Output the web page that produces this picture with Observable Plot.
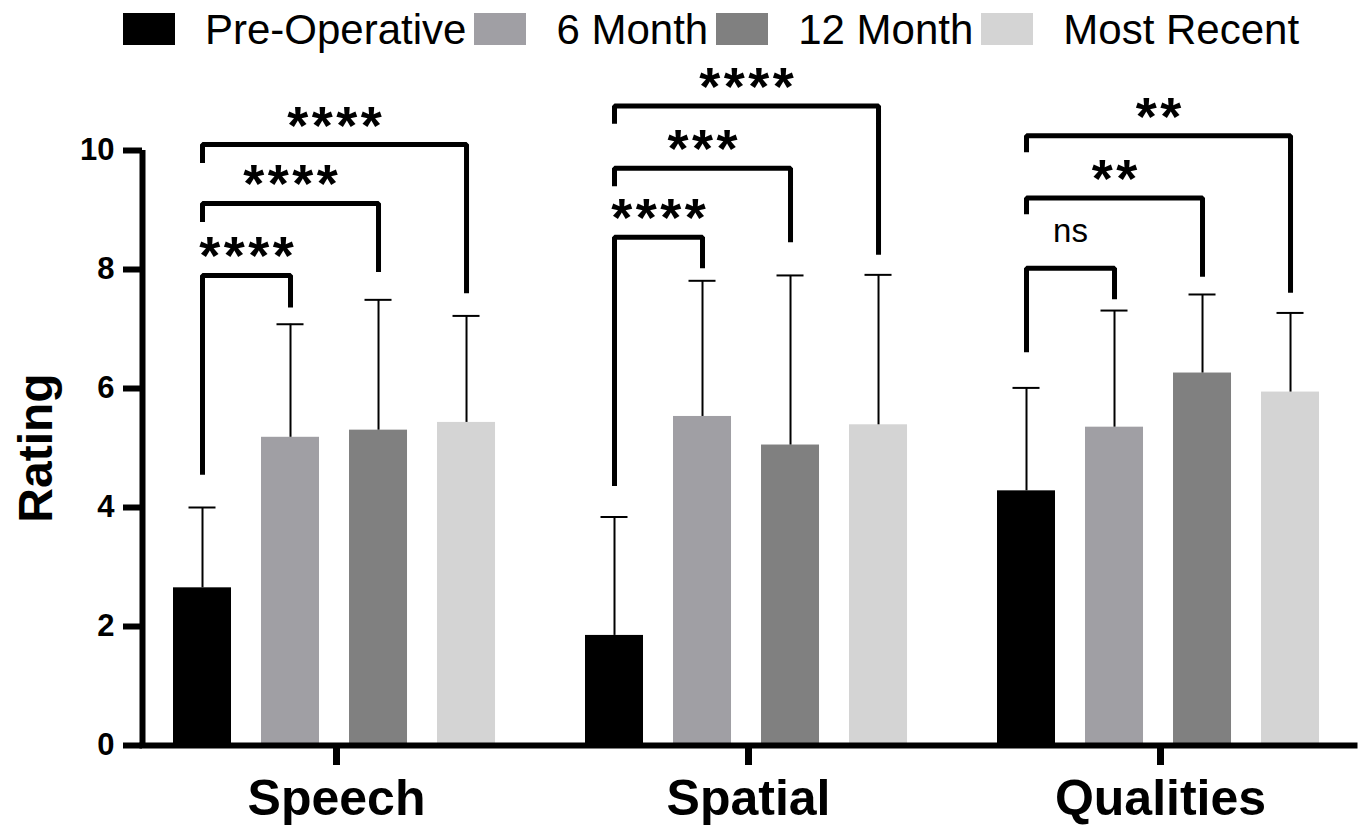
<!DOCTYPE html>
<html>
<head>
<meta charset="utf-8">
<script src="https://cdn.jsdelivr.net/npm/d3@7"></script>
<script src="https://cdn.jsdelivr.net/npm/@observablehq/plot@0.6"></script>
<style>
  html, body { margin: 0; padding: 0; background: #fff; }
  body { width: 1360px; height: 829px; overflow: hidden; font-family: "Liberation Sans", Arial, sans-serif; }
  #legend { display: flex; align-items: flex-start; height: 50px; box-sizing: border-box; padding: 13px 0 0 123px; }
  #legend .item { display: flex; align-items: center; margin-right: 8px; }
  #legend .swatch { width: 52px; height: 32px; margin-right: 30px; }
  #legend .label { font-size: 42px; line-height: 32px; color: #000; white-space: nowrap; position: relative; top: 1px; }
  #chart svg { display: block; }
</style>
</head>
<body>
<div id="legend"></div>
<div id="chart"></div>
<script>
// Outcome categories and assessment timepoints
const categories = ["Speech", "Spatial", "Qualities"];
const series = ["Pre-Operative", "6 Month", "12 Month", "Most Recent"];
const colors = ["#000000", "#a09fa4", "#808080", "#d4d4d4"];

// Mean rating at each timepoint
const speechMean = [2.65, 5.18, 5.30, 5.43];
const spatialMean = [1.85, 5.53, 5.05, 5.39];
const qualitiesMean = [4.28, 5.35, 6.26, 5.94];

// Standard deviation (upper whisker)
const speechSD = [1.35, 1.90, 2.19, 1.79];
const spatialSD = [1.99, 2.28, 2.85, 2.52];
const qualitiesSD = [1.73, 1.96, 1.32, 1.33];

const yTicks = [0, 2, 4, 6, 8, 10];

// Each later timepoint compared against Pre-Operative
const compareTarget = ["6 Month", "12 Month", "Most Recent"];
const speechSig = ["****", "****", "****"];
const spatialSig = ["****", "***", "****"];
const qualitiesSig = ["ns", "**", "**"];

// Bracket geometry in rating units: crossbar level, left leg end, right leg end
const speechBracketTop = [7.90, 9.11, 10.10];
const speechLeftEnd = [4.55, 8.80, 9.79];
const speechRightEnd = [7.36, 7.96, 7.60];
const spatialBracketTop = [8.54, 9.70, 10.75];
const spatialLeftEnd = [4.36, 9.40, 10.45];
const spatialRightEnd = [8.02, 8.46, 8.25];
const qualitiesBracketTop = [8.02, 9.20, 10.25];
const qualitiesLeftEnd = [6.61, 8.93, 9.97];
const qualitiesRightEnd = [7.50, 7.88, 7.61];

// ---- tables for Plot ----
const meanBy = {Speech: speechMean, Spatial: spatialMean, Qualities: qualitiesMean};
const sdBy = {Speech: speechSD, Spatial: spatialSD, Qualities: qualitiesSD};
const sigBy = {Speech: speechSig, Spatial: spatialSig, Qualities: qualitiesSig};
const topBy = {Speech: speechBracketTop, Spatial: spatialBracketTop, Qualities: qualitiesBracketTop};
const leftBy = {Speech: speechLeftEnd, Spatial: spatialLeftEnd, Qualities: qualitiesLeftEnd};
const rightBy = {Speech: speechRightEnd, Spatial: spatialRightEnd, Qualities: qualitiesRightEnd};

const bars = categories.flatMap(c => series.map((s, i) => ({
  category: c, series: s, i, mean: meanBy[c][i], sd: sdBy[c][i]
})));

const brackets = categories.flatMap(c => compareTarget.map((t, k) => ({
  category: c, id: `${c}-${t}`, from: 0, to: series.indexOf(t),
  label: sigBy[c][k], top: topBy[c][k], left: leftBy[c][k], right: rightBy[c][k]
})));

const bracketPath = brackets.flatMap(b => [
  {category: b.category, id: b.id, pos: b.from, y: b.left},
  {category: b.category, id: b.id, pos: b.from, y: b.top},
  {category: b.category, id: b.id, pos: b.to, y: b.top},
  {category: b.category, id: b.id, pos: b.to, y: b.right}
]);

// ---- legend ----
const legend = document.getElementById("legend");
series.forEach((s, i) => {
  const item = document.createElement("div");
  item.className = "item";
  const sw = document.createElement("div");
  sw.className = "swatch";
  sw.style.background = colors[i];
  const lab = document.createElement("span");
  lab.className = "label";
  lab.textContent = s;
  item.append(sw, lab);
  legend.append(item);
});

// ---- chart ----
const xDomain = [-0.1818, 4.227];   // timepoint slots within each category
const center = d => d + 0.5;
const starSpacing = 3.5;            // extra tracking between asterisks

const chart = Plot.plot({
  width: 1360,
  height: 779,
  marginTop: 100,
  marginBottom: 84,
  marginLeft: 141,
  marginRight: 6,
  style: {fontFamily: "'Liberation Sans', Arial, sans-serif", color: "#000", background: "#fff"},
  fx: {domain: categories, paddingInner: 0.0594, paddingOuter: 0},
  x: {domain: xDomain, axis: null},
  y: {domain: [0, 10]},
  color: {domain: series, range: colors},
  marks: [
    // bars
    Plot.rectY(bars, {
      fx: "category", x1: "i", x2: d => d.i + 1, y1: () => 0, y2: "mean",
      fill: "series", insetLeft: 15, insetRight: 15
    }),
    // upper error whiskers
    Plot.ruleX(bars, {
      fx: "category", x: d => center(d.i), y1: "mean", y2: d => d.mean + d.sd,
      stroke: "#000", strokeWidth: 2
    }),
    Plot.ruleY(bars, {
      fx: "category", x1: "i", x2: d => d.i + 1, y: d => d.mean + d.sd,
      insetLeft: 30.5, insetRight: 30.5, stroke: "#000", strokeWidth: 2
    }),
    // significance brackets
    Plot.line(bracketPath, {
      fx: "category", x: d => center(d.pos), y: "y", z: "id",
      stroke: "#000", strokeWidth: 5, strokeLinejoin: "miter", strokeLinecap: "butt"
    }),
    Plot.text(brackets.filter(b => b.label !== "ns"), {
      fx: "category", x: b => center((b.from + b.to) / 2), y: "top", text: "label",
      fontSize: 54, fontWeight: "bold", lineAnchor: "bottom", dx: starSpacing / 2, dy: -1
    }),
    Plot.text(brackets.filter(b => b.label === "ns"), {
      fx: "category", x: b => center((b.from + b.to) / 2), y: "top", text: "label",
      fontSize: 33, lineAnchor: "bottom", dy: -26
    }),
    // axes
    Plot.ruleX([categories[0]], {
      fx: d => d, x: () => xDomain[0], y1: () => yTicks[0], y2: () => yTicks[yTicks.length - 1],
      stroke: "#000", strokeWidth: 6
    }),
    Plot.frame({anchor: "bottom", facet: "super", stroke: "#000", strokeWidth: 6}),
    Plot.axisY({
      ticks: yTicks, tickFormat: d => d, tickSize: 19, tickPadding: 9,
      strokeWidth: 6, fontSize: 31, fontWeight: "bold", label: null
    }),
    Plot.axisFx({
      anchor: "bottom", tickSize: 20, tickPadding: 13.5, strokeWidth: 7,
      fontSize: 50, fontWeight: "bold", label: null
    }),
    Plot.text(["Rating"], {
      facet: "super", frameAnchor: "left", rotate: -90, dx: -91,
      textAnchor: "middle", lineAnchor: "bottom", fontSize: 48, fontWeight: "bold"
    })
  ]
});

// spread the asterisks of the significance labels
chart.querySelectorAll("text").forEach(t => {
  if (/^\*+$/.test(t.textContent)) t.style.letterSpacing = `${starSpacing}px`;
});

document.getElementById("chart").append(chart);
</script>
</body>
</html>
